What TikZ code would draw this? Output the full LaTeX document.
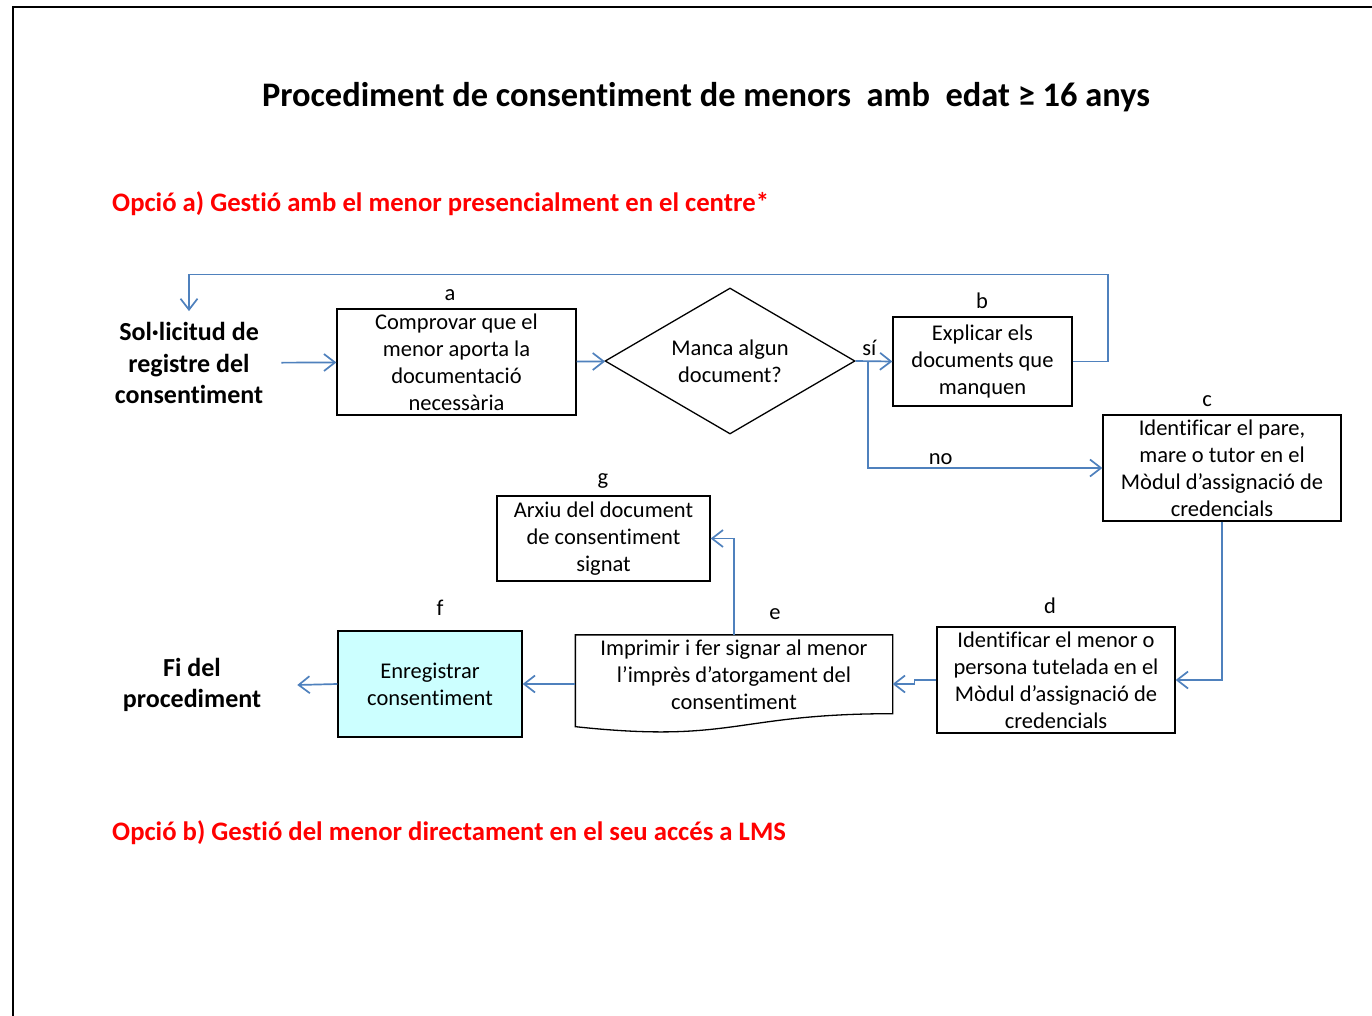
\documentclass[tikz,border=0pt]{standalone}
\usepackage{fontspec}
\setmainfont{Carlito}[Ligatures=NoCommon]
\usetikzlibrary{calc,arrows.meta,shapes.geometric,positioning}
\definecolor{flowblue}{RGB}{79,129,189}
\definecolor{regcyan}{RGB}{204,255,255}
\definecolor{optred}{RGB}{255,0,0}
\newcommand{\bodyfont}{\fontsize{22.5}{27}\selectfont}
\newcommand{\headfont}{\fontsize{26}{31.5}\selectfont\bfseries}

\begin{document}
\begin{tikzpicture}[x=1pt,y=-1pt,
  stepbox/.style={draw=black,line width=1.3pt,align=center,font=\bodyfont,inner sep=0pt},
  decision/.style={draw=black,line width=1.3pt,diamond,aspect=1.7,align=center,font=\bodyfont,inner sep=0pt},
  letter/.style={font=\bodyfont,inner sep=0pt},
  endpoint/.style={align=center,font=\headfont},
  optline/.style={anchor=west,font=\fontsize{26.7}{32}\selectfont\bfseries,text=optred,inner sep=0pt},
  flow/.style={draw=flowblue,line width=1.7pt,-{Straight Barb[length=11pt,width=17pt,line width=1.7pt]}}]
  \useasboundingbox (0,0) rectangle (1372,1016);
  \fill[white] (0,0) rectangle (1372,1016);
  \draw[line width=2.2pt] (13,1017) -- (13,7) -- (1373,7);

  % titles
  \node[font=\fontsize{34.4}{41}\selectfont\bfseries] (title) at (706,97) {Procediment de consentiment de menors \ amb \ edat ≥ 16 anys};
  \node[optline] (opta) at (112,204) {Opció a) Gestió amb el menor presencialment en el centre*};
  \node[optline] (optb) at (112,833) {Opció b) Gestió del menor directament en el seu accés a LMS};

  % steps
  \node[endpoint,inner xsep=18pt,inner ysep=11pt] (start) at (189,363) {Sol·licitud de\\registre del\\consentiment};
  \node[stepbox,minimum width=239,minimum height=106] (a) at (456.5,362) {Comprovar que el\\menor aporta la\\documentació\\necessària};
  \node[decision,minimum width=250,minimum height=146] (check) at (730,361) {Manca algun\\document?};
  \node[stepbox,minimum width=179,minimum height=89] (b) at (982.5,361.5) {Explicar els\\documents que\\manquen};
  \node[stepbox,minimum width=238,minimum height=106] (c) at (1222,468) {Identificar el pare,\\mare o tutor en el\\Mòdul d’assignació de\\credencials};
  \node[stepbox,minimum width=213,minimum height=85] (g) at (603.5,538.5) {Arxiu del document\\de consentiment\\signat};
  \node[stepbox,minimum width=238,minimum height=106] (d) at (1056,680) {Identificar el menor o\\persona tutelada en el\\Mòdul d’assignació de\\credencials};
  \node[stepbox,draw=none,minimum width=316,minimum height=97] (e) at (734,684) {};
  \draw[line width=1.3pt] (e.north west) -- (e.north east)
    -- ($(e.north east)!0.802!(e.south east)$)
    .. controls ($(e.north)!0.802!(e.south)$) and ($(e.north)!1.1075!(e.south)$)
    .. ($(e.north west)!0.934!(e.south west)$) -- cycle;
  \node[align=center,font=\bodyfont,inner sep=0pt] (etext) at ($(e.center)+(0,-9)$) {Imprimir i fer signar al menor\\l’imprès d’atorgament del\\consentiment};
  \node[stepbox,fill=regcyan,minimum width=184,minimum height=106] (f) at (430,684) {Enregistrar\\consentiment};
  \node[endpoint,inner xsep=36pt] (fi) at (192,685) {Fi del\\procediment};

  % step letters
  \node[letter] (la) at (450,295) {a};
  \node[letter] (lb) at (982,301) {b};
  \node[letter] (lc) at (1207,401) {c};
  \node[letter] (ld) at (1050,606) {d};
  \node[letter] (le) at (775,614) {e};
  \node[letter] (lf) at (440,608) {f};
  \node[letter] (lg) at (603,481) {g};

  % connectors
  \coordinate (split) at (868,361);
  \draw[flow] (start) -- (a);
  \draw[flow] (a) -- (check);
  \draw[flow] (check.east) -- (b.west) node[letter,pos=0.37,above=5pt] {sí};
  \draw[flow] (b.east) -- ++(35,0) -- ++(0,-87) -| (start.north);
  \draw[flow] (split) |- (c.west) node[letter,pos=0.655,above=2pt] {no};
  \draw[flow] (c.south) |- (d.east);
  \draw[flow] (d.west) -- ++(-22,0) -- ++(0,4) -- (e.east);
  \draw[flow] (e.north) |- (g.east);
  \draw[flow] (e.west) -- (f.east);
  \draw[flow] (f.west) -- (fi.east);
\end{tikzpicture}
\end{document}
